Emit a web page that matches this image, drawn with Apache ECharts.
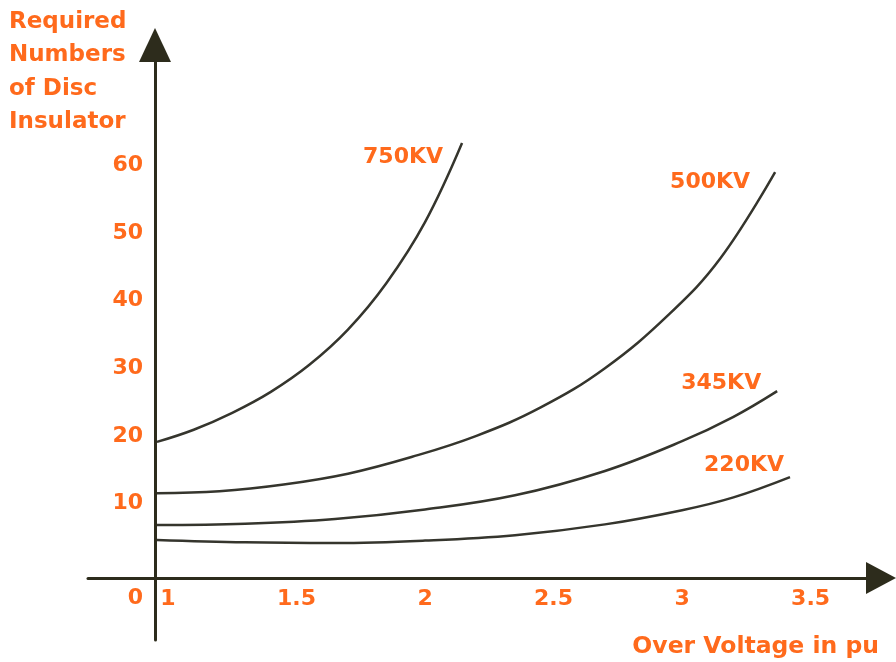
<!DOCTYPE html>
<html>
<head>
<meta charset="utf-8">
<script src="https://cdn.jsdelivr.net/npm/echarts@6/dist/echarts.min.js"></script>
<style>html,body{margin:0;padding:0;background:#fff}#c{width:896px;height:662px}</style>
</head>
<body>
<div id="c"></div>
<script>
// ---- data ----
const seriesNames = ['750KV', '500KV', '345KV', '220KV'];
const volt750 = [0.957, 1.1, 1.25, 1.4, 1.55, 1.7, 1.85, 2.0, 2.144];
const disc750 = [19.1, 20.9, 23.4, 26.5, 30.5, 35.7, 42.6, 51.6, 63.3];
const volt500 = [0.957, 1.2, 1.45, 1.7, 1.95, 2.2, 2.45, 2.7, 2.95, 3.15, 3.362];
const disc500 = [11.5, 11.8, 12.8, 14.4, 16.9, 20.0, 24.2, 30.0, 38.0, 46.3, 59.0];
const volt345 = [0.957, 1.3, 1.65, 2.0, 2.35, 2.7, 3.0, 3.2, 3.37];
const disc345 = [6.8, 7.0, 7.7, 9.1, 11.2, 14.8, 19.2, 22.8, 26.6];
const volt220 = [0.957, 1.3, 1.65, 2.0, 2.35, 2.7, 3.0, 3.2, 3.42];
const disc220 = [4.6, 4.25, 4.15, 4.5, 5.3, 6.9, 9.0, 10.9, 13.9];
const xTickLabels = [1, 1.5, 2, 2.5, 3, 3.5];
const yTickLabels = [0, 10, 20, 30, 40, 50, 60];
const yTitle = 'Required\nNumbers\nof Disc\nInsulator';
const xTitle = 'Over Voltage in pu';

const ORANGE = '#ff6a1c';
const AXIS = '#2d2c1c';
const LINE = '#35352d';
const FONT = 'DejaVu Sans';

const pairs = (xs, ys) => xs.map((x, i) => [x, ys[i]]);
const allData = [pairs(volt750, disc750), pairs(volt500, disc500), pairs(volt345, disc345), pairs(volt220, disc220)];
const labelOffsets = [[-27, 14], [-33, 10], [-24, -8], [-14, -12]];

const chart = echarts.init(document.getElementById('c'), null, { renderer: 'canvas' });
chart.setOption({
  animation: false,
  backgroundColor: '#fff',
  title: [
    { text: yTitle, left: 9, top: 5, padding: 0,
      textStyle: { fontFamily: FONT, fontWeight: 'bold', fontSize: 23, lineHeight: 33.5, color: ORANGE } },
    { text: xTitle, right: 17, top: 632, padding: 0,
      textStyle: { fontFamily: FONT, fontWeight: 'bold', fontSize: 23.5, lineHeight: 30, color: ORANGE } }
  ],
  grid: { left: 88, right: 15, top: 45, bottom: 22, containLabel: false },
  xAxis: {
    type: 'value', min: 0.6887, max: 3.774,
    offset: -62,
    axisLine: { show: true, onZero: false, lineStyle: { color: AXIS, width: 3 },
      symbol: ['none', 'triangle'], symbolSize: [32, 30] },
    axisTick: { show: false },
    splitLine: { show: false },
    axisLabel: { customValues: xTickLabels, margin: 10, color: ORANGE,
      fontFamily: FONT, fontWeight: 'bold', fontSize: 22 }
  },
  yAxis: {
    type: 'value', min: -10.2, max: 77.8,
    offset: -67,
    axisLine: { show: true, onZero: false, lineStyle: { color: AXIS, width: 3 },
      symbol: ['none', 'triangle'], symbolSize: [32, 34] },
    axisTick: { show: false },
    splitLine: { show: false },
    axisLabel: { customValues: yTickLabels, margin: 12, color: ORANGE,
      fontFamily: FONT, fontWeight: 'bold', fontSize: 22,
      formatter: v => v === 0 ? '{z|0}' : String(v),
      rich: { z: { padding: [54, 0, 0, 0], color: ORANGE, fontFamily: FONT, fontWeight: 'bold', fontSize: 22 } } }
  },
  series: seriesNames.map((name, i) => ({
    name, type: 'line', data: allData[i], smooth: 0.4, showSymbol: false,
    lineStyle: { color: LINE, width: 2.5 },
    endLabel: { show: true, formatter: '{a}', align: 'right', offset: labelOffsets[i],
      color: ORANGE, fontFamily: FONT, fontWeight: 'bold', fontSize: 22 }
  }))
});
</script>
</body>
</html>
